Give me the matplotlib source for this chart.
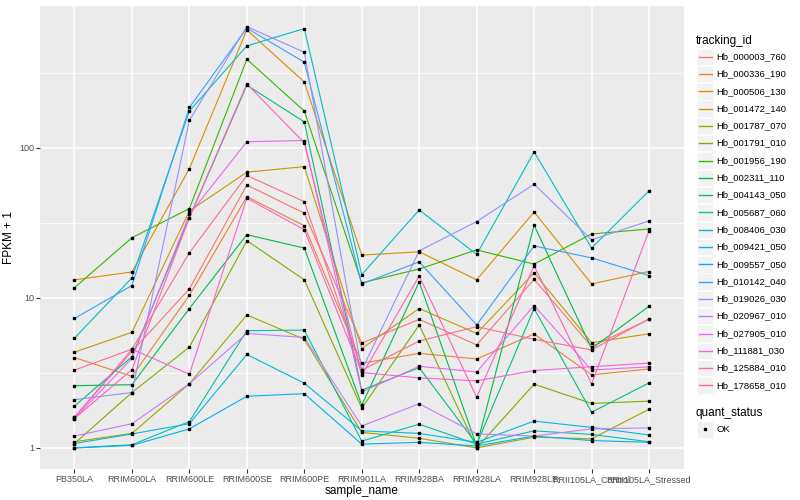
import numpy as np
import matplotlib
matplotlib.use('Agg')
import matplotlib.pyplot as plt
from matplotlib.patches import Rectangle
from matplotlib.lines import Line2D
from matplotlib.ticker import FixedLocator, FuncFormatter, NullFormatter

plt.rcParams['font.family'] = ['Liberation Sans', 'DejaVu Sans']

# 样本名
samples = ['PB350LA', 'RRIM600LA', 'RRIM600LE', 'RRIM600SE', 'RRIM600PE',
           'RRIM901LA', 'RRIM928BA', 'RRIM928LA', 'RRIM928LE',
           'RRII105LA_Control', 'RRII105LA_Stressed']

tracking_ids = ['Hb_000003_760', 'Hb_000336_190', 'Hb_000506_130', 'Hb_001472_140',
                'Hb_001787_070', 'Hb_001791_010', 'Hb_001956_190', 'Hb_002311_110',
                'Hb_004143_050', 'Hb_005687_060', 'Hb_008406_030', 'Hb_009421_050',
                'Hb_009557_050', 'Hb_010142_040', 'Hb_019026_030', 'Hb_020967_010',
                'Hb_027905_010', 'Hb_111881_030', 'Hb_125884_010', 'Hb_178658_010']

# FPKM + 1, 每个基因一行
hb_000003_760 = [1.6, 4.4, 11.5, 56.6, 36.7, 5.0, 7.2, 4.86, 13.3, 4.74, 7.2]
hb_000336_190 = [4.0, 3.0, 10.4, 47.3, 30.3, 3.67, 4.27, 3.92, 5.75, 3.07, 3.36]
hb_000506_130 = [13.2, 14.9, 72.8, 612, 275, 19.3, 20.3, 13.2, 37.4, 12.4, 15.0]
hb_001472_140 = [4.35, 5.9, 38, 68.9, 75, 4.6, 8.5, 5.8, 14.7, 5.03, 5.77]
hb_001787_070 = [1.1, 1.25, 2.68, 7.7, 5.3, 1.27, 1.16, 1.0, 1.18, 1.15, 1.81]
hb_001791_010 = [1.07, 2.34, 4.7, 24.1, 13.2, 1.84, 6.6, 1.0, 2.66, 1.98, 2.05]
hb_001956_190 = [11.7, 25.2, 39.4, 390, 176, 12.6, 15.6, 20.9, 16.8, 26.7, 28.8]
hb_002311_110 = [2.6, 2.64, 8.5, 26.4, 21.5, 1.93, 12.8, 1.03, 30.5, 4.6, 8.8]
hb_004143_050 = [1.9, 4.06, 34.3, 262, 149, 2.43, 3.43, 1.06, 8.5, 1.73, 2.71]
hb_005687_060 = [1.0, 1.05, 1.5, 6.05, 6.1, 1.11, 1.44, 1.06, 1.3, 1.23, 1.1]
hb_008406_030 = [5.4, 13.6, 176, 479, 624, 14.3, 38.6, 19.5, 94, 21.5, 51.7]
hb_009421_050 = [1.07, 1.24, 1.45, 4.2, 2.7, 1.3, 1.25, 1.09, 1.51, 1.37, 1.22]
hb_009557_050 = [1.0, 1.04, 1.34, 2.21, 2.3, 1.06, 1.09, 1.03, 1.2, 1.12, 1.09]
hb_010142_040 = [7.3, 12.1, 186, 628, 373, 12.4, 17.4, 6.6, 22.2, 18.5, 14.1]
hb_019026_030 = [2.1, 2.34, 153, 644, 434, 3.3, 20.6, 32.3, 57.3, 24.4, 32.6]
hb_020967_010 = [1.2, 1.45, 2.68, 5.8, 5.45, 1.4, 1.97, 1.24, 1.2, 1.34, 1.36]
hb_027905_010 = [1.57, 3.96, 36, 110, 112, 2.36, 3.5, 3.21, 8.9, 3.31, 3.47]
hb_111881_030 = [1.6, 4.55, 3.1, 46.2, 28.5, 3.18, 2.93, 2.8, 3.28, 3.48, 3.68]
hb_125884_010 = [1.57, 3.33, 34.3, 267, 108, 3.05, 14.0, 2.18, 16.4, 2.67, 28.1]
hb_178658_010 = [3.3, 4.55, 20, 65.5, 43.8, 3.3, 5.16, 6.43, 5.3, 4.5, 7.24]

series = [hb_000003_760, hb_000336_190, hb_000506_130, hb_001472_140, hb_001787_070,
          hb_001791_010, hb_001956_190, hb_002311_110, hb_004143_050, hb_005687_060,
          hb_008406_030, hb_009421_050, hb_009557_050, hb_010142_040, hb_019026_030,
          hb_020967_010, hb_027905_010, hb_111881_030, hb_125884_010, hb_178658_010]

# ggplot 默认色
colors = ['#F8766D', '#EA8331', '#D89000', '#C09B00', '#A3A500', '#7CAE00', '#39B600',
          '#00BB4E', '#00BF7D', '#00C1A3', '#00BFC4', '#00BAE0', '#00B0F6', '#35A2FF',
          '#9590FF', '#C77CFF', '#E76BF3', '#FA62DB', '#FF62BC', '#FF6C91']

W, H = 800, 500
fig = plt.figure(figsize=(W / 100, H / 100), dpi=100)
ax = fig.add_axes([40 / W, 1 - 469 / H, 643.5 / W, 463.5 / H])
ax.set_facecolor('#EBEBEB')
for sp in ax.spines.values():
    sp.set_visible(False)

x = np.arange(len(samples))
for vals, col in zip(series, colors):
    ax.plot(x, vals, color=col, lw=0.8, zorder=2)
for vals in series:
    ax.plot(x, vals, 's', color='black', ms=2.1, ls='none', zorder=3)

ax.set_yscale('log')
ax.set_xlim(-0.6, len(samples) - 0.4)
allv = np.log10(np.concatenate([np.array(s, dtype=float) for s in series]))
lo, hi = allv.min(), allv.max()
pad = (hi - lo) * 0.05
ax.set_ylim(10 ** (lo - pad), 10 ** (hi + pad))

ax.yaxis.set_major_locator(FixedLocator([1, 10, 100]))
ax.yaxis.set_major_formatter(FuncFormatter(lambda v, p: f'{v:g}'))
ax.yaxis.set_minor_locator(FixedLocator([10 ** 0.5, 10 ** 1.5, 10 ** 2.5]))
ax.yaxis.set_minor_formatter(NullFormatter())
ax.set_xticks(x)
ax.set_xticklabels(samples)

ax.grid(which='major', color='white', lw=1.1)
ax.grid(which='minor', axis='y', color='white', lw=0.55)
ax.set_axisbelow(True)
ax.tick_params(which='major', length=2.75, width=0.8, color='#333333',
               labelcolor='#4D4D4D', labelsize=6.5, pad=1.5)
ax.tick_params(which='minor', length=0)

ax.set_xlabel('sample_name', fontsize=8.5, labelpad=1)
ax.set_ylabel('FPKM + 1', fontsize=8.5, labelpad=3)


def fx(px):
    return px / W


def fy(py):
    return 1 - py / H


# 图例 tracking_id
fig.text(fx(696), fy(40.7), 'tracking_id', fontsize=8.5, va='center')
for i, (name, col) in enumerate(zip(tracking_ids, colors)):
    yc = 56.7 + i * 17.3
    fig.add_artist(Rectangle((fx(697), fy(yc + 8.2)), 16.4 / W, 16.4 / H,
                             transform=fig.transFigure, fc='#F2F2F2', ec='white',
                             lw=0.5, zorder=1))
    fig.add_artist(Line2D([fx(698.5), fx(712)], [fy(yc), fy(yc)], color=col, lw=1.0,
                          transform=fig.transFigure, zorder=5))
    fig.text(fx(716.5), fy(yc), name, fontsize=6.8, va='center')

# 图例 quant_status
fig.text(fx(696), fy(412.7), 'quant_status', fontsize=8.5, va='center')
fig.add_artist(Rectangle((fx(697), fy(429.3 + 8.2)), 16.4 / W, 16.4 / H,
                         transform=fig.transFigure, fc='#F2F2F2', ec='white',
                         lw=0.5, zorder=1))
fig.add_artist(Line2D([fx(705)], [fy(429.3)], marker='s', color='black', ms=2.1,
                      ls='none', transform=fig.transFigure, zorder=5))
fig.text(fx(716.5), fy(429.3), 'OK', fontsize=6.8, va='center')

fig.savefig('out.png', dpi=100)
